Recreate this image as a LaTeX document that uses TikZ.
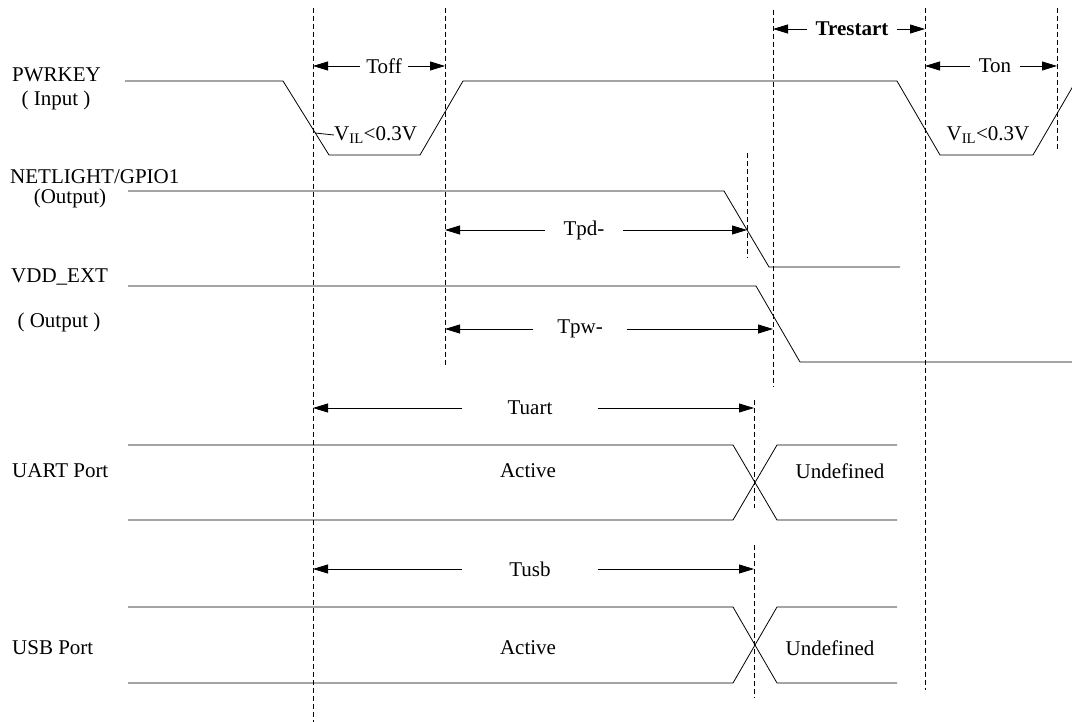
\documentclass[tikz,border=0pt]{standalone}
\usepackage{fontspec}
\setmainfont{Liberation Serif}
\usetikzlibrary{arrows.meta}

\begin{document}
\begin{tikzpicture}[x=1pt, y=-1pt,
    every node/.style={font=\fontsize{21}{25}\selectfont, inner sep=0pt},
    wave/.style={line width=0.8pt},
    guide/.style={line width=0.7pt, dash pattern=on 5pt off 3pt},
    dim/.style={line width=0.8pt, -{Triangle[length=15pt,width=9pt]}}]
    \useasboundingbox (0,0) rectangle (1072,722);

    % guide lines
    \coordinate (v1) at (313,0);
    \coordinate (v2) at (445,0);
    \coordinate (v3) at (747,0);
    \coordinate (v4) at (773,0);
    \coordinate (v5) at (925,0);
    \coordinate (v6) at (1057,0);
    \coordinate (v7) at (754,0);
    \draw[guide] (313,8) -- (313,722);
    \draw[guide] (445,8) -- (445,365);
    \draw[guide] (747,153) -- (747,258);
    \draw[guide] (773,10) -- (773,387);
    \draw[guide] (925,8) -- (925,690);
    \draw[guide] (1057,8) -- (1057,150);
    \draw[guide] (754,400) -- (754,508);
    \draw[guide] (754,545) -- (754,698);

    % signal names
    \node[anchor=west] at (12,75)  (pwr)   {PWRKEY};
    \node at (56,100)              (pwrio) {( Input )};
    \node[anchor=west] at (10,177) (net)   {NETLIGHT/GPIO1};
    \node at (70,198)              (netio) {(Output)};
    \node[anchor=west] at (11,277) (vdd)   {VDD\_EXT};
    \node at (59,322)              (vddio) {( Output )};
    \node[anchor=west] at (12,471) (uart)  {UART Port};
    \node[anchor=west] at (12,648) (usb)   {USB Port};

    % waveforms
    \draw[wave] (125,81) -- (283,81) -- (329,155) -- (420,155) -- (463,81)
        -- (897,81) -- (940,155) -- (1033,155) -- (1076,81);
    \draw[wave] (128,191) -- (724,191) -- (769,267) -- (900,267);
    \draw[wave] (128,286) -- (756,286) -- (800,362) -- (1072,362);
    \draw[wave] (128,445) -- (733,445) -- (777,520) -- (897,520);
    \draw[wave] (128,520) -- (733,520) -- (777,445) -- (897,445);
    \draw[wave] (128,607) -- (733,607) -- (777,683) -- (897,683);
    \draw[wave] (128,683) -- (733,683) -- (777,607) -- (897,607);

    % levels and states
    \node[anchor=west] at (334,135) (vil1) {V\textsubscript{IL}<0.3V};
    \draw[wave] (315,133) -- (vil1.west);
    \node at (988,135)  (vil2) {V\textsubscript{IL}<0.3V};
    \node at (528,471)  (act1) {Active};
    \node at (840,471)  (und1) {Undefined};
    \node at (528,648)  (act2) {Active};
    \node at (830,648)  (und2) {Undefined};

    % timings
    \node[minimum width=48pt] at (384,66)  (toff) {Toff};
    \node[minimum width=89pt] at (852,29)  (trst) {\bfseries Trestart};
    \node[minimum width=49pt] at (995,66)  (ton)  {Ton};
    \node[minimum width=78pt] at (584,230) (tpd)  {Tpd-};
    \node[minimum width=93pt] at (580,329) (tpw)  {Tpw-};
    \node[minimum width=135pt] at (530,408) (tuart) {Tuart};
    \node[minimum width=135pt] at (530,569) (tusb)  {Tusb};

    \draw[dim] (toff.west) -- (toff.west -| v1);
    \draw[dim] (toff.east) -- (toff.east -| v2);
    \draw[dim] (trst.west) -- (trst.west -| v4);
    \draw[dim] (trst.east) -- (trst.east -| v5);
    \draw[dim] (ton.west) -- (ton.west -| v5);
    \draw[dim] (ton.east) -- (ton.east -| v6);
    \draw[dim] (tpd.west) -- (tpd.west -| v2);
    \draw[dim] (tpd.east) -- (tpd.east -| v3);
    \draw[dim] (tpw.west) -- (tpw.west -| v2);
    \draw[dim] (tpw.east) -- (tpw.east -| v4);
    \draw[dim] (tuart.west) -- (tuart.west -| v1);
    \draw[dim] (tuart.east) -- (tuart.east -| v7);
    \draw[dim] (tusb.west) -- (tusb.west -| v1);
    \draw[dim] (tusb.east) -- (tusb.east -| v7);
\end{tikzpicture}
\end{document}
